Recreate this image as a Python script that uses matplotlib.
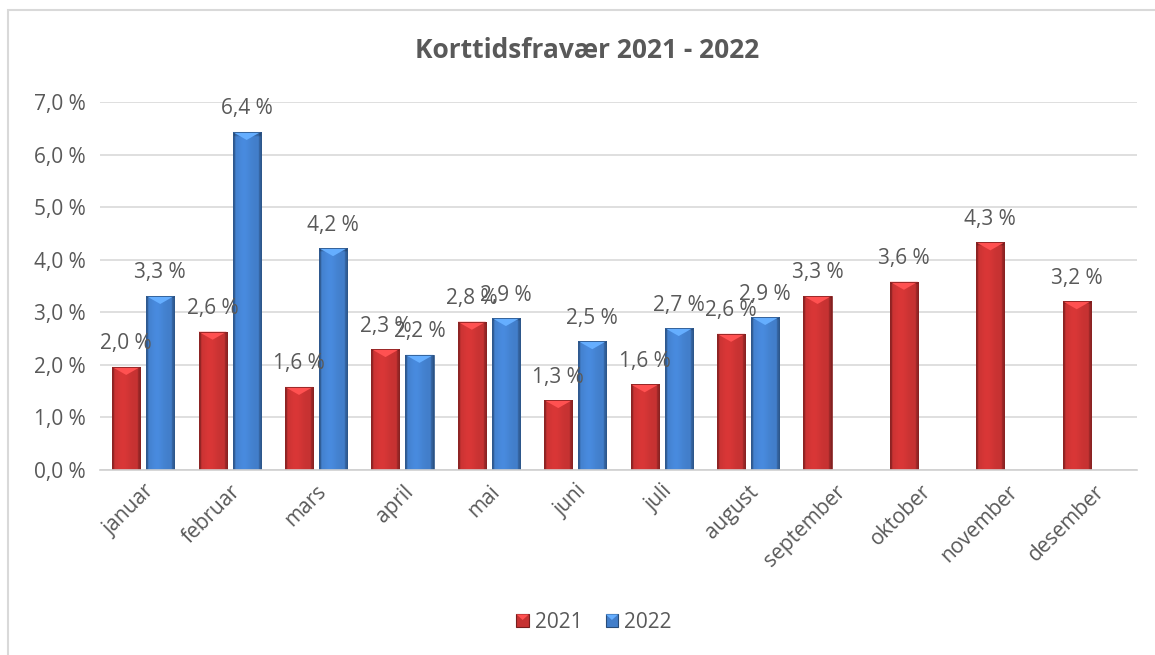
import numpy as np
import matplotlib
matplotlib.use("Agg")
import matplotlib.pyplot as plt
from matplotlib.patches import Polygon, Rectangle
from matplotlib.legend_handler import HandlerBase

months = ["januar", "februar", "mars", "april", "mai", "juni", "juli",
          "august", "september", "oktober", "november", "desember"]
vals_2021 = [1.96, 2.63, 1.58, 2.30, 2.82, 1.33, 1.63, 2.59, 3.31, 3.58, 4.33, 3.21]
vals_2022 = [3.31, 6.43, 4.22, 2.19, 2.89, 2.45, 2.70, 2.91]
series_names = ["2021", "2022"]
yticks = [0, 1, 2, 3, 4, 5, 6, 7]

RED = np.array([198, 50, 50]) / 255
BLUE = np.array([66, 126, 202]) / 255
TEXT = "#595959"
FONT = "Open Sans"
FS = 15

plt.rcParams["font.family"] = [FONT, "DejaVu Sans"]

W, H = 1155, 655
fig = plt.figure(figsize=(W / 100, H / 100), dpi=100)
fig.patch.set_facecolor("white")

# chart frame (runs off the right and bottom edges)
fig.add_artist(Rectangle((8 / W, -0.02), 1.2, (H - 10) / H + 0.02,
                         transform=fig.transFigure, fill=False,
                         edgecolor="#D9D9D9", linewidth=1.5))

ax = fig.add_axes([100 / W, (H - 470) / H, (1137 - 100) / W, (470 - 102) / H])
ax.set_facecolor("none")


def bevel_image(base):
    """Horizontal shading profile for a bevelled column."""
    n = 64
    t = np.linspace(0, 1, n)
    f = np.ones(n)
    f = f + 0.10 * np.exp(-((t - 0.38) / 0.25) ** 2)
    f[t < 0.07] = 0.75
    f[t > 0.90] = 0.80
    f[t > 0.96] = 0.66
    img = np.clip(base[None, :] * f[:, None], 0, 1)
    rows = 200
    v = np.linspace(0, 1, rows)
    vert = np.ones(rows)
    vert[v > 0.985] = 0.8
    arr = img[None, :, :] * vert[:, None, None]
    arr = arr[::-1]
    return np.clip(arr, 0, 1)


def draw_bevel_bars(x, heights, base):
    bars = ax.bar(x, heights, width=0.325, color=base, edgecolor="none",
                  zorder=2)
    img = bevel_image(base)
    px_per_unit = 368 / 7.0
    for b in bars:
        x0, w, h = b.get_x(), b.get_width(), b.get_height()
        im = ax.imshow(img, extent=[x0, x0 + w, 0, h], aspect="auto",
                       zorder=2.1, interpolation="bilinear")
        im.set_clip_path(b)
        d = min(8 / px_per_unit, h * 0.5)
        top = Polygon([(x0, h), (x0 + w, h), (x0 + w / 2, h - d)],
                      closed=True, facecolor=np.clip(base * 1.22 + 0.08, 0, 1),
                      edgecolor="none", zorder=2.2)
        ax.add_patch(top)
        ax.add_patch(Rectangle((x0, 0), w, h, fill=False,
                               edgecolor=base * 0.7, linewidth=0.6, zorder=2.3))
    return bars


xc = np.arange(len(months))
off = 0.197
x21 = xc[:len(vals_2021)] - off
x22 = xc[:len(vals_2022)] + off
draw_bevel_bars(x21, vals_2021, RED)
draw_bevel_bars(x22, vals_2022, BLUE)

for x, v in list(zip(x21, vals_2021)) + list(zip(x22, vals_2022)):
    ax.annotate(f"{v:.1f} %".replace(".", ","), (x, v), xytext=(0, 9),
                textcoords="offset points", ha="center", va="bottom",
                fontsize=FS, color=TEXT, zorder=5)

ax.set_xlim(-0.5, len(months) - 0.5)
ax.set_ylim(0, 7)
ax.set_yticks(yticks)
ax.set_yticklabels([f"{t:.1f} %".replace(".", ",") for t in yticks],
                   fontsize=FS, color=TEXT)
ax.yaxis.grid(True, color="#D9D9D9", linewidth=1.2, zorder=0)
ax.set_axisbelow(True)
ax.tick_params(axis="y", length=0, pad=10)
ax.tick_params(axis="x", length=0, pad=8)
ax.set_xticks(xc)
ax.set_xticklabels(months, rotation=45, ha="right", va="top",
                   rotation_mode="anchor", fontsize=FS, color=TEXT)
for s in ["top", "right", "left"]:
    ax.spines[s].set_visible(False)
ax.spines["bottom"].set_color("#D0D0D0")
ax.spines["bottom"].set_linewidth(1.2)

fig.text(587 / W, (H - 50) / H, "Korttidsfravær 2021 - 2022", ha="center",
         va="center", fontsize=19, fontweight="bold", color=TEXT)


class BevelSquare(HandlerBase):
    def __init__(self, base):
        super().__init__()
        self.base = base

    def create_artists(self, legend, orig_handle, xdescent, ydescent, width,
                       height, fontsize, trans):
        s = height * 0.85
        x0 = width - s
        y0 = -ydescent + height * 0.05
        sq = Rectangle((x0, y0), s, s, facecolor=self.base,
                       edgecolor=self.base * 0.6, linewidth=0.8, transform=trans)
        tri = Polygon([(x0, y0 + s), (x0 + s, y0 + s), (x0 + s / 2, y0 + s * 0.55)],
                      facecolor=np.clip(self.base * 1.22 + 0.08, 0, 1),
                      edgecolor="none", transform=trans)
        return [sq, tri]


h1 = Rectangle((0, 0), 1, 1)
h2 = Rectangle((0, 0), 1, 1)
fig.legend([h1, h2], series_names, loc="center",
           bbox_to_anchor=(592 / W, (H - 622) / H), ncol=2, frameon=False,
           fontsize=FS, labelcolor=TEXT, handlelength=0.8,
           handletextpad=0.3, columnspacing=0.9,
           handler_map={h1: BevelSquare(RED), h2: BevelSquare(BLUE)})

fig.savefig("out.png", dpi=100)
